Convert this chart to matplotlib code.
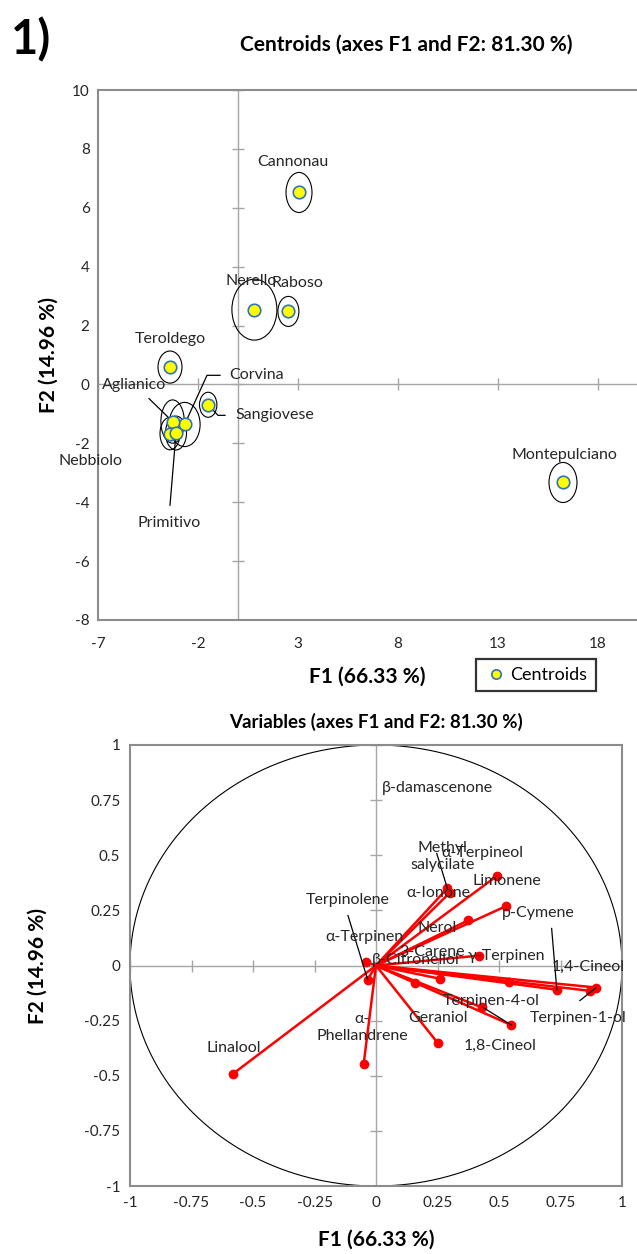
import matplotlib
matplotlib.use("Agg")
import matplotlib.pyplot as plt
from matplotlib.patches import Ellipse
import numpy as np

plt.rcParams["font.family"] = ["Lato", "DejaVu Sans"]
plt.rcParams["axes.unicode_minus"] = False

# ---- centroids (top chart) ----
wines = ["Cannonau", "Nerello", "Raboso", "Teroldego", "Sangiovese",
         "Corvina", "Aglianico", "Nebbiolo", "Primitivo", "Montepulciano"]
f1_c = [3.05, 0.82, 2.52, -3.4, -1.49, -2.67, -3.27, -3.4, -3.1, 16.25]
f2_c = [6.52, 2.54, 2.48, 0.59, -0.69, -1.36, -1.26, -1.67, -1.65, -3.33]
ell_w = [1.3, 2.25, 1.05, 1.2, 0.87, 1.55, 1.17, 1.0, 1.05, 1.4]
ell_h = [1.36, 2.07, 1.02, 1.09, 0.85, 1.5, 1.47, 1.1, 1.15, 1.36]
lab_c = {"Cannonau": (2.75, 7.54), "Nerello": (0.65, 3.5), "Raboso": (2.95, 3.43),
         "Teroldego": (-3.4, 1.56), "Sangiovese": (1.85, -1.05),
         "Corvina": (0.95, 0.31), "Aglianico": (-5.2, -0.03),
         "Nebbiolo": (-7.4, -2.6), "Primitivo": (-3.45, -4.69),
         "Montepulciano": (16.3, -2.38)}
lead_c = {"Corvina": [(-1.55, 0.31), (-0.9, 0.31)],
          "Aglianico": [(-4.45, -0.48)],
          "Sangiovese": [(-1.0, -1.05), (-0.65, -1.05)],
          "Primitivo": [(-3.4, -4.1)]}

# ---- variables (bottom chart) ----
variables = ["Linalool", "α-\nPhellandrene", "Terpinolene", "α-Terpinen",
             "β-Citronellol", "Geraniol", "1,8-Cineol", "Terpinen-4-ol",
             "Terpinen-1-ol", "1,4-Cineol", "γ-Terpinen", "3-Carene", "Nerol",
             "p-Cymene", "α-Ionone", "Limonene", "α-Terpineol",
             "Methyl\nsalycilate", "β-damascenone"]
f1_v = [-0.58, -0.05, -0.034, -0.04, 0.16, 0.25, 0.55, 0.43, 0.895, 0.87,
        0.42, 0.26, 0.375, 0.735, 0.30, 0.53, 0.49, 0.29, 0.54]
f2_v = [-0.49, -0.445, -0.064, 0.015, -0.08, -0.35, -0.27, -0.19, -0.10, -0.115,
        0.045, -0.06, 0.205, -0.11, 0.33, 0.27, 0.405, 0.35, -0.075]
lab_v = [(-0.578, -0.375), (-0.057, -0.281), (-0.114, 0.295), (-0.045, 0.127),
         (0.163, 0.023), (0.252, -0.236), (0.504, -0.363), (0.467, -0.159),
         (0.821, -0.236), (0.862, -0.005), (0.532, 0.045), (0.228, 0.059),
         (0.248, 0.168), (0.659, 0.236), (0.252, 0.327), (0.533, 0.385),
         (0.431, 0.512), (0.272, 0.494), (0.248, 0.807)]
lead_v = {"Terpinolene": (-0.114, 0.227), "Methyl\nsalycilate": (0.247, 0.508),
          "p-Cymene": (0.714, 0.168), "Terpinen-1-ol": (0.829, -0.159)}

W, H = 637, 1254
fig = plt.figure(figsize=(W / 100, H / 100), dpi=100)
frame_col = "#8c8c8c"
axis_col = "#a6a6a6"
txt_col = "#262626"
lbl_size = 11.5
ax_lbl = 15

# ================= top chart =================
ax = fig.add_axes([98 / W, (H - 620) / H, 600 / W, 530 / H])
ax.set_xlim(-7, 23)
ax.set_ylim(-8, 10)
ax.axhline(0, color=axis_col, lw=1, zorder=1)
ax.axvline(0, color=axis_col, lw=1, zorder=1)
xt = np.arange(-7, 23, 5)
yt = np.arange(-8, 11, 2)
ax.plot(xt, np.zeros(len(xt)), ls="none", marker="|", ms=8, color=axis_col, mew=1)
ax.plot(np.zeros(len(yt)), yt, ls="none", marker="_", ms=8, color=axis_col, mew=1)
ax.set_xticks(xt[xt <= 18])
ax.set_yticks(yt)
ax.tick_params(length=0, labelsize=11, labelcolor=txt_col)
ax.tick_params(axis="x", pad=12)
ax.tick_params(axis="y", pad=6)
for s in ax.spines.values():
    s.set_color(frame_col)
    s.set_linewidth(1.5)

for i, w in enumerate(wines):
    ax.add_patch(Ellipse((f1_c[i], f2_c[i]), ell_w[i], ell_h[i], fill=False,
                         ec="black", lw=0.8, zorder=2))
ax.plot(f1_c, f2_c, ls="none", marker="o", ms=9, mfc="#ffff00", mec="#2e75b6",
        mew=1.2, zorder=4, label="Centroids")
for i, w in enumerate(wines):
    if w in lead_c:
        pts = [(f1_c[i], f2_c[i])] + lead_c[w]
        ax.plot([p[0] for p in pts], [p[1] for p in pts], color="black", lw=0.9,
                zorder=3, clip_on=False)
    tx, ty = lab_c[w]
    ax.text(tx, ty, w, ha="center", va="center", fontsize=lbl_size, color=txt_col,
            clip_on=False, zorder=5)

ax.set_xlabel("F1 (66.33 %)", fontsize=ax_lbl, fontweight="bold")
ax.xaxis.set_label_coords((367.5 - 98) / 600, -0.088)
ax.set_ylabel("F2 (14.96 %)", fontsize=ax_lbl, fontweight="bold")
ax.yaxis.set_label_coords(-0.065, 0.5)
leg = ax.legend(loc="center", bbox_to_anchor=(536 / W, 1 - 675 / H),
                bbox_transform=fig.transFigure, fontsize=13, frameon=True,
                fancybox=False, handletextpad=0.15, borderpad=0.45,
                handlelength=1.3, markerscale=0.75)
leg.get_frame().set_edgecolor("black")
leg.get_frame().set_linewidth(1.6)

fig.text(406 / W, 1 - 45 / H, "Centroids (axes F1 and F2: 81.30 %)", ha="center",
         va="center", fontsize=15, fontweight="bold")
fig.text(31 / W, 1 - 40 / H, "1)", ha="center", va="center", fontsize=34,
         fontweight="bold")

# ================= bottom chart =================
bx = fig.add_axes([130 / W, (H - 1186) / H, 492 / W, 441 / H])
bx.set_xlim(-1, 1)
bx.set_ylim(-1, 1)
bx.axhline(0, color=axis_col, lw=1, zorder=1)
bx.axvline(0, color=axis_col, lw=1, zorder=1)
t = np.arange(-1, 1.01, 0.25)
bx.plot(t, np.zeros(len(t)), ls="none", marker="|", ms=8, color=axis_col, mew=1)
bx.plot(np.zeros(len(t)), t, ls="none", marker="_", ms=8, color=axis_col, mew=1)
labels_t = ["-1", "-0.75", "-0.5", "-0.25", "0", "0.25", "0.5", "0.75", "1"]
bx.set_xticks(t)
bx.set_xticklabels(labels_t)
bx.set_yticks(t)
bx.set_yticklabels(labels_t)
bx.tick_params(length=0, labelsize=11, pad=7, labelcolor=txt_col)
for s in bx.spines.values():
    s.set_color(frame_col)
    s.set_linewidth(1.5)

th = np.linspace(0, 2 * np.pi, 400)
bx.plot(np.cos(th), np.sin(th), color="black", lw=0.8, zorder=2)
for i, v in enumerate(variables):
    bx.plot([0, f1_v[i]], [0, f2_v[i]], color="#ff0000", lw=1.8, zorder=3)
bx.plot(f1_v, f2_v, ls="none", marker="o", ms=6, color="#ff0000", zorder=4)
for i, v in enumerate(variables):
    if v in lead_v:
        lx, ly = lead_v[v]
        bx.plot([lx, f1_v[i]], [ly, f2_v[i]], color="black", lw=0.9, zorder=5)
    bx.text(lab_v[i][0], lab_v[i][1], v, ha="center", va="center", fontsize=lbl_size,
            color=txt_col, zorder=6, linespacing=1.3)
# leader between Terpinen-4-ol label and 1,8-Cineol point
bx.annotate("", xy=(f1_v[6], f2_v[6]), xytext=(0.435, -0.19),
            arrowprops=dict(arrowstyle="-", color="black", lw=0.9,
                            shrinkA=0, shrinkB=0), zorder=5)

bx.set_xlabel("F1 (66.33 %)", fontsize=ax_lbl, fontweight="bold")
bx.xaxis.set_label_coords(0.5, -0.1)
bx.set_ylabel("F2 (14.96 %)", fontsize=ax_lbl, fontweight="bold")
bx.yaxis.set_label_coords(-0.168, 0.5)
fig.text(376 / W, 1 - 722 / H, "Variables (axes F1 and F2: 81.30 %)", ha="center",
         va="center", fontsize=13.5, fontweight="bold")

fig.savefig("out.png", dpi=100)
